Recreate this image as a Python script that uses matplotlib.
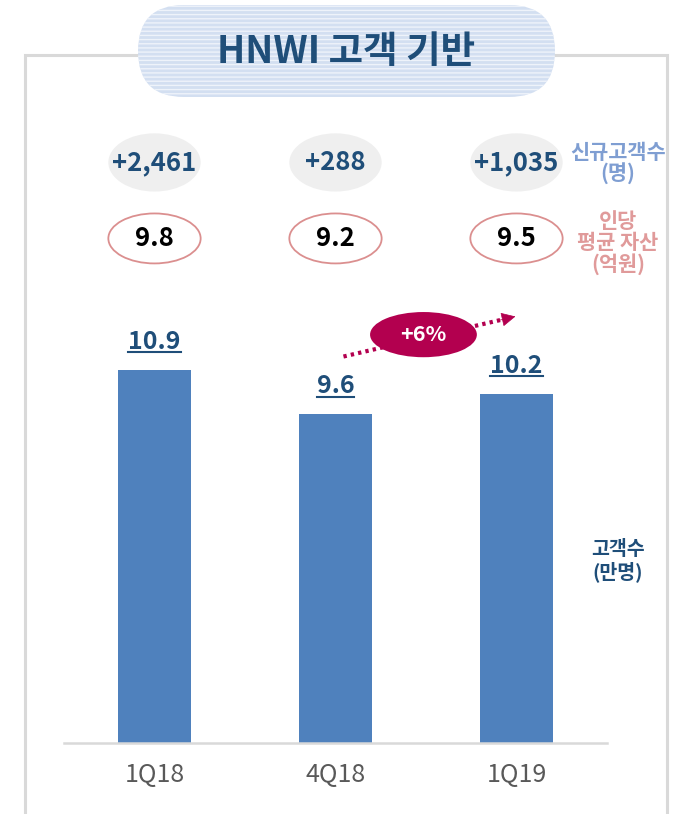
import matplotlib.pyplot as plt
from matplotlib.patches import Ellipse, FancyBboxPatch

plt.rcParams['font.family'] = ['Noto Sans CJK KR', 'DejaVu Sans']
plt.rcParams['hatch.linewidth'] = 1.0

# data
quarters = ["1Q18", "4Q18", "1Q19"]
customers = [10.9, 9.6, 10.2]          # 고객수 (만명)
new_customers = ["+2,461", "+288", "+1,035"]   # 신규고객수 (명)
avg_assets = [9.8, 9.2, 9.5]           # 인당 평균 자산 (억원)
growth_label = "+6%"

BAR = "#4F81BD"
NAVY = "#1F4E79"
BERRY = "#B3004F"
GRID = "#D9D9D9"

fig = plt.figure(figsize=(6.9, 8.14), dpi=100)

# decoration layer in pixel coordinates
deco = fig.add_axes([0, 0, 1, 1])
deco.set_xlim(0, 690)
deco.set_ylim(814, 0)
deco.axis("off")
deco.plot([25, 25, 667, 667], [814, 55, 55, 814], color=GRID, lw=2.2,
          solid_joinstyle="miter")
pill = FancyBboxPatch((138, 5), 417, 92,
                      boxstyle="round,pad=0,rounding_size=46",
                      facecolor="#D3DFF1", edgecolor="#EEF3FA", hatch="----",
                      lw=0, zorder=2)
deco.add_patch(pill)
deco.text(346, 51, "HNWI 고객 기반", ha="center", va="center", fontsize=27,
          fontweight="bold", color=NAVY, zorder=3)

# chart
ax = fig.add_axes([64 / 690, 71 / 814, 543 / 690, 623 / 814])
ax.patch.set_alpha(0)
x = list(range(len(quarters)))
bars = ax.bar(x, customers, width=0.4, color=BAR, zorder=2)
ax.set_xlim(-0.5, 2.5)
ax.set_ylim(0, 18.2)
ax.set_yticks([])
for s in ["left", "right", "top"]:
    ax.spines[s].set_visible(False)
ax.spines["bottom"].set_color(GRID)
ax.spines["bottom"].set_linewidth(1.8)
ax.set_xticks(x)
ax.set_xticklabels(quarters, fontsize=18, color="#595959",
                   fontweight="light")
ax.tick_params(axis="x", length=0, pad=14)

value_texts = []
for xi, v in zip(x, customers):
    t = ax.text(xi, v + 0.82, f"{v:.1f}", ha="center", va="center",
                fontsize=18, fontweight="bold", color=NAVY)
    value_texts.append(t)

for xi, label, asset in zip(x, new_customers, avg_assets):
    ax.add_patch(Ellipse((xi, 16.96), 0.51, 1.70, facecolor="#EFEFEF",
                         edgecolor="none", clip_on=False))
    ax.text(xi, 16.96, label, ha="center", va="center", fontsize=18.5,
            fontweight="bold", color=NAVY)
    ax.add_patch(Ellipse((xi, 14.74), 0.51, 1.46, facecolor="white",
                         edgecolor="#DB8F8F", lw=1.3, clip_on=False))
    ax.text(xi, 14.74, f"{asset:.1f}", ha="center", va="center",
            fontsize=18.5, fontweight="bold", color="black")

ax.text(2.56, 16.93, "신규고객수\n(명)", ha="center", va="center",
        fontsize=15, fontweight="bold", color="#7F9ED2", linespacing=1.05)
ax.text(2.56, 14.6, "인당\n평균 자산\n(억원)", ha="center", va="center",
        fontsize=15, fontweight="bold", color="#E09A9A", linespacing=1.02)
ax.text(2.56, 5.32, "고객수\n(만명)", ha="center", va="center",
        fontsize=14, fontweight="bold", color=NAVY, linespacing=1.15)

# growth arrow: dotted shaft plus solid head
ax.plot([1.044, 1.93], [11.29, 12.38], color=BERRY, lw=3,
        linestyle=(0, (0.8, 1.0)))
ax.annotate("", xy=(1.994, 12.46), xytext=(1.90, 12.345),
            arrowprops=dict(arrowstyle="-|>,head_length=0.9,head_width=0.45",
                            color=BERRY, lw=0.5, shrinkA=0, shrinkB=0))
ax.add_patch(Ellipse((1.486, 11.93), 0.59, 1.32, facecolor=BERRY,
                     edgecolor="none", zorder=3))
ax.text(1.486, 11.93, growth_label, ha="center", va="center", fontsize=15.5,
        fontweight="bold", color="white", zorder=4)

# underline bar values
fig.canvas.draw()
inv = ax.transData.inverted()
for t in value_texts:
    bb = t.get_window_extent()
    (x0, y0), (x1, _) = inv.transform([(bb.x0, bb.y0), (bb.x1, bb.y1)])
    ax.plot([x0, x1], [y0 + 0.05, y0 + 0.05], color=NAVY, lw=1.5)

fig.savefig("out.png", dpi=100)
